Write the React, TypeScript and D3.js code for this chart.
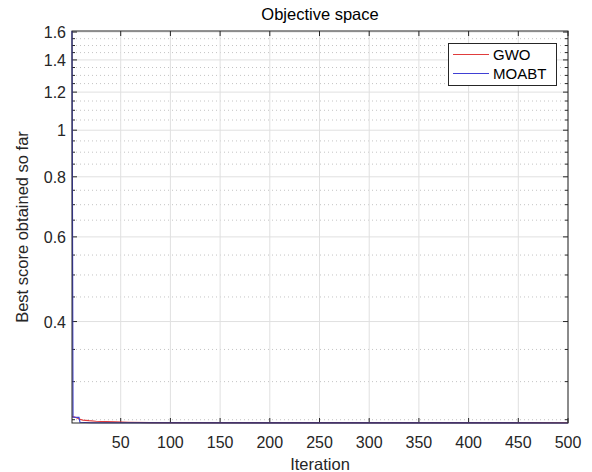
import React from 'react';
import * as d3 from 'd3';

// convergence curves, [iteration, best score]
const gwoIter = [1, 3, 5, 8, 12, 18, 25, 35, 45, 58, 80, 500];
const gwoScore = [0.2535, 0.2535, 0.2527, 0.2508, 0.2495, 0.2488, 0.2482, 0.2477, 0.2474, 0.247, 0.2466, 0.2464];
const moabtIter = [1, 2, 8, 9, 20, 500];
const moabtScore = [1.608, 0.2532, 0.2529, 0.247, 0.2464, 0.2461];

const xTicks = [50, 100, 150, 200, 250, 300, 350, 400, 450, 500];
const yTicks = [0.4, 0.6, 0.8, 1, 1.2, 1.4, 1.6];
const yMinor = [0.25, 0.3, 0.35, 0.45, 0.5, 0.55, 0.65, 0.7, 0.75, 0.85, 0.9, 0.95, 1.05, 1.1, 1.15, 1.25, 1.3, 1.35, 1.45, 1.5, 1.55];

const series = [
  { name: 'GWO', color: '#e03c3c', iter: gwoIter, score: gwoScore },
  { name: 'MOABT', color: '#4040d4', iter: moabtIter, score: moabtScore },
];

const W = 592;
const H = 472;
const margin = { top: 31, right: 24, bottom: 49, left: 72 };
const font = '"Liberation Sans", Arial, Helvetica, sans-serif';

const App = () => {
  const x = d3.scaleLinear().domain([1, 500]).range([margin.left, W - margin.right]);
  const y = d3.scaleLog().domain([0.2461, 1.608]).range([H - margin.bottom, margin.top]);
  const x0 = margin.left, x1 = W - margin.right, y0 = H - margin.bottom, y1 = margin.top;

  const line = (it: number[], sc: number[]) =>
    d3.line<number>().x((_, i) => x(it[i])).y(d => y(d))(sc) || '';

  return (
    <svg width={W} height={H} style={{ position: 'absolute', left: 0, top: 0, background: '#fff' }} fontFamily={font}>
      {/* grid */}
      {yMinor.map(v => (
        <line key={'ym' + v} x1={x0} x2={x1} y1={y(v)} y2={y(v)} stroke="#c4c4c4" strokeWidth={1} strokeDasharray="1,3" />
      ))}
      {yTicks.map(v => (
        <line key={'yg' + v} x1={x0} x2={x1} y1={y(v)} y2={y(v)} stroke="#e0e0e0" strokeWidth={1} />
      ))}
      {xTicks.map(v => (
        <line key={'xg' + v} x1={x(v)} x2={x(v)} y1={y0} y2={y1} stroke="#e0e0e0" strokeWidth={1} />
      ))}

      {/* ticks */}
      {xTicks.map(v => (
        <g key={'xt' + v}>
          <line x1={x(v)} x2={x(v)} y1={y0} y2={y0 - 5} stroke="#262626" />
          <line x1={x(v)} x2={x(v)} y1={y1} y2={y1 + 5} stroke="#262626" />
          <text x={x(v)} y={y0 + 25} textAnchor="middle" fontSize={16} fill="#262626">{v}</text>
        </g>
      ))}
      {yTicks.map(v => (
        <g key={'yt' + v}>
          <line x1={x0} x2={x0 + 5} y1={y(v)} y2={y(v)} stroke="#262626" />
          <line x1={x1} x2={x1 - 5} y1={y(v)} y2={y(v)} stroke="#262626" />
          <text x={x0 - 6} y={y(v) + 6} textAnchor="end" fontSize={16} fill="#262626">{String(v)}</text>
        </g>
      ))}
      {yMinor.map(v => (
        <g key={'ymt' + v}>
          <line x1={x0} x2={x0 + 3} y1={y(v)} y2={y(v)} stroke="#262626" />
          <line x1={x1} x2={x1 - 3} y1={y(v)} y2={y(v)} stroke="#262626" />
        </g>
      ))}

      {/* data */}
      {series.map(s => (
        <path key={s.name} d={line(s.iter, s.score)} fill="none" stroke={s.color} strokeWidth={1.2} />
      ))}

      {/* box */}
      <rect x={x0} y={y1} width={x1 - x0} height={y0 - y1} fill="none" stroke="#262626" strokeWidth={1} />

      {/* legend */}
      <g>
        <rect x={448.5} y={43.5} width={108} height={42} fill="#fff" stroke="#262626" strokeWidth={1} />
        {series.map((s, i) => (
          <g key={'lg' + s.name}>
            <line x1={453} x2={489} y1={54.5 + i * 19} y2={54.5 + i * 19} stroke={s.color} strokeWidth={1.2} />
            <text x={493} y={60 + i * 19} fontSize={15} fill="#000">{s.name}</text>
          </g>
        ))}
      </g>

      {/* labels */}
      <text x={(x0 + x1) / 2} y={20} textAnchor="middle" fontSize={16.5} fill="#000">Objective space</text>
      <text x={(x0 + x1) / 2} y={470} textAnchor="middle" fontSize={16.5} fill="#262626">Iteration</text>
      <text transform={`translate(28,${(y0 + y1) / 2}) rotate(-90)`} textAnchor="middle" fontSize={16.5} fill="#262626">Best score obtained so far</text>
    </svg>
  );
};

export default App;
